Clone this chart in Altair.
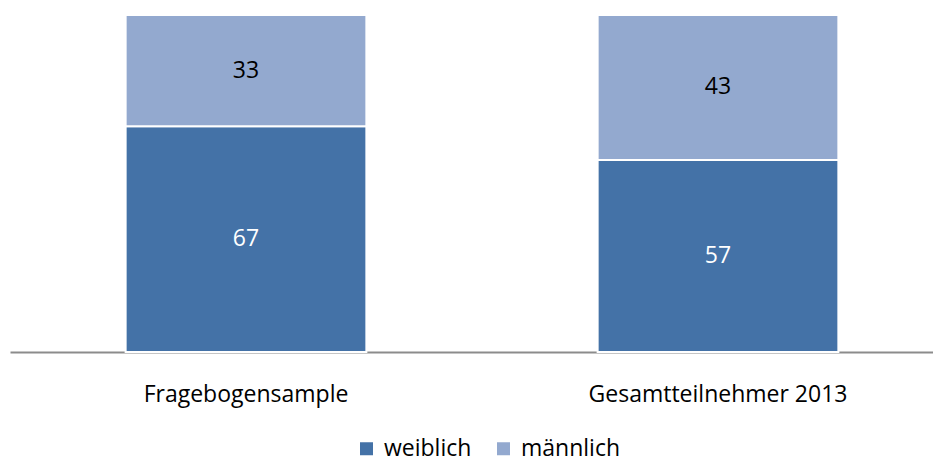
import altair as alt
import pandas as pd

categories = ["Fragebogensample", "Gesamtteilnehmer 2013"]
weiblich = [67, 57]
maennlich = [33, 43]
series = ["weiblich", "männlich"]

rows = []
for i, c in enumerate(categories):
    rows.append({"cat": c, "sex": "weiblich", "value": weiblich[i], "ord": 0, "tc": "white"})
    rows.append({"cat": c, "sex": "männlich", "value": maennlich[i], "ord": 1, "tc": "black"})
df = pd.DataFrame(rows)

FONT = "Open Sans"
FS = 23

x = alt.X("cat:N", sort=categories,
          scale=alt.Scale(range=[0, 944], paddingInner=0.49, paddingOuter=0.245),
          axis=alt.Axis(title=None, labelAngle=0, labelFontSize=FS, labelFont=FONT,
                        labelColor="black", domainColor="#8c8c8c", domainWidth=2,
                        ticks=False, labelPadding=31, labelLimit=400, grid=False))

base = alt.Chart(df).transform_stack(
    stack="value", groupby=["cat"], as_=["y0", "y1"], sort=[alt.SortField("ord")]
).transform_calculate(mid="(datum.y0 + datum.y1) / 2")

bars = base.mark_bar(stroke="white", strokeWidth=2).encode(
    x=x,
    y=alt.Y("y0:Q", scale=alt.Scale(domain=[0, 100]), axis=None),
    y2="y1:Q",
    color=alt.Color("sex:N", sort=series,
                    scale=alt.Scale(domain=series, range=["#4472A7", "#93A9CF"]),
                    legend=alt.Legend(title=None, orient="none", legendX=345, legendY=422,
                                      direction="horizontal", symbolType="square",
                                      symbolSize=169, symbolStrokeWidth=0, labelFontSize=FS,
                                      labelFont=FONT, labelColor="black", columnPadding=20,
                                      labelOffset=6, padding=0)),
)

labels = base.mark_text(fontSize=FS, font=FONT, baseline="middle").encode(
    x=alt.X("cat:N", sort=categories),
    y=alt.Y("mid:Q", axis=None),
    text=alt.Text("value:Q"),
    color=alt.Color("tc:N", scale=None),
)

chart = alt.layer(bars, labels).properties(
    width=921, height=337,
    background="white",
    autosize=alt.AutoSizeParams(type="none"),
    padding={"left": 2, "top": 7, "right": 2, "bottom": 110},
).configure_view(stroke=None)

chart.save("out.html", embed_options={"renderer": "svg", "actions": False})
